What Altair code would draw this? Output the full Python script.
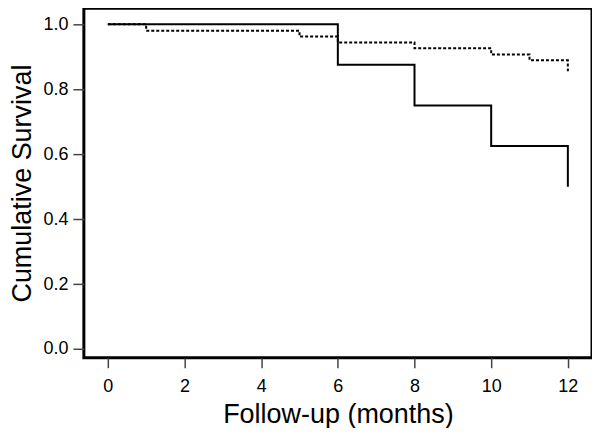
import altair as alt
import pandas as pd

# Solid curve (group A)
solid_time = [0, 6, 8, 10, 12]
solid_surv = [1.0, 0.875, 0.75, 0.625, 0.5]
# Dotted curve (group B)
dotted_time = [0, 1, 5, 6, 8, 10, 11, 12]
dotted_surv = [1.0, 0.98, 0.962, 0.944, 0.926, 0.907, 0.889, 0.855]

x_ticks = [0, 2, 4, 6, 8, 10, 12]
y_ticks = [0.0, 0.2, 0.4, 0.6, 0.8, 1.0]

rows = []
for t, s in zip(solid_time, solid_surv):
    rows.append({"time": t, "surv": s, "group": "solid"})
for t, s in zip(dotted_time, dotted_surv):
    rows.append({"time": t, "surv": s, "group": "dotted"})
df = pd.DataFrame(rows)

font = "Liberation Sans"

chart = alt.Chart(df).mark_line(interpolate="step-after", strokeWidth=2, color="black").encode(
    x=alt.X("time:Q",
            scale=alt.Scale(domain=[-0.625, 12.63], nice=False, zero=False),
            axis=alt.Axis(values=x_ticks, title="Follow-up (months)", grid=False, domain=False,
                          tickSize=10, tickColor="#444", tickWidth=1.5, tickOffset=0,
                          labelFontSize=18, labelFont=font, labelColor="black", labelPadding=10,
                          titleFontSize=27, titleFont=font, titleFontWeight="normal",
                          titleColor="black", titlePadding=6)),
    y=alt.Y("surv:Q",
            scale=alt.Scale(domain=[-0.027, 1.049], nice=False, zero=False),
            axis=alt.Axis(values=y_ticks, format=".1f", title="Cumulative Survival", grid=False,
                          domain=False, tickSize=11, tickColor="#444", tickWidth=1.5,
                          labelFontSize=18, labelFont=font, labelColor="black", labelPadding=5,
                          titleFontSize=27, titleFont=font, titleFontWeight="normal",
                          titleColor="black", titlePadding=6)),
    strokeDash=alt.StrokeDash("group:N",
                              scale=alt.Scale(domain=["solid", "dotted"], range=[[1, 0], [3, 2]]),
                              legend=None),
    detail="group:N",
).properties(
    width=509, height=350,
    padding={"left": 0, "top": 0, "right": 0, "bottom": 0},
    background="white",
).configure_view(
    stroke="black", strokeWidth=3
)

chart.save("out.html", embed_options={"renderer": "svg", "actions": False})
